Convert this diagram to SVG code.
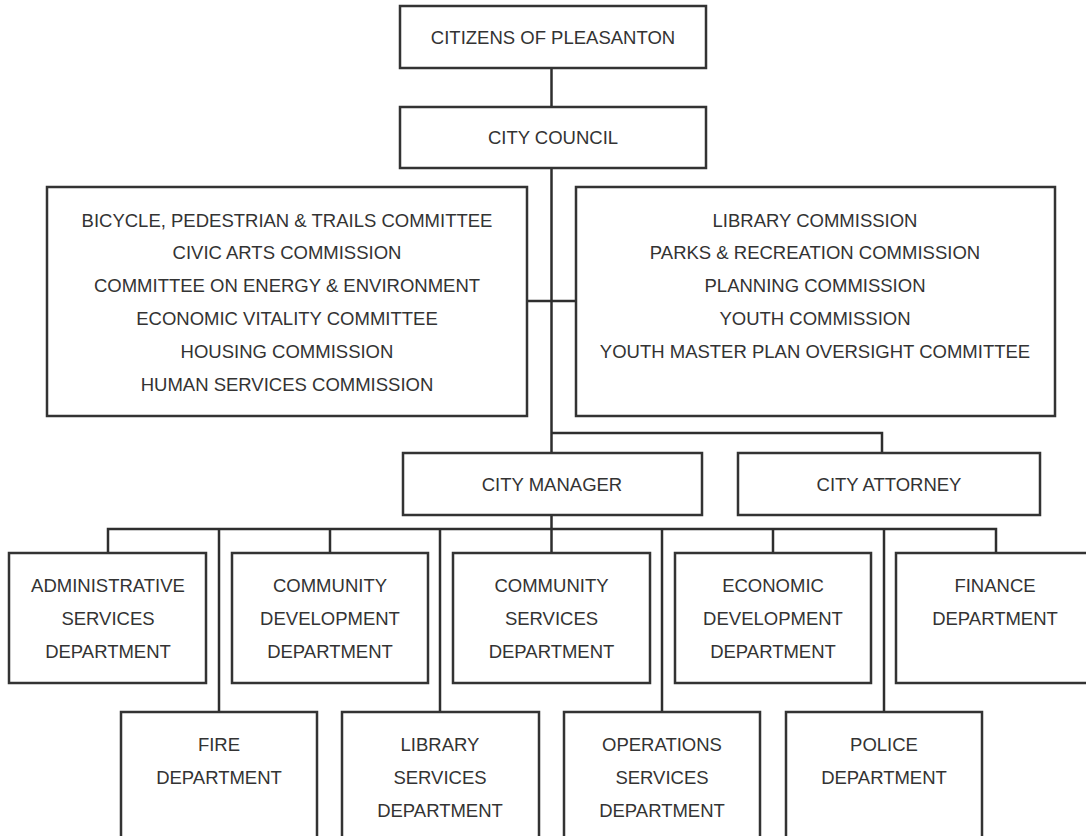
<svg xmlns="http://www.w3.org/2000/svg" width="1086" height="836" viewBox="0 0 1086 836">
<style>
.box{fill:#ffffff;stroke:#333333;stroke-width:2.5}
.ln{fill:none;stroke:#2e2e2e;stroke-width:2.5}
text{font-family:"Liberation Sans",Arial,sans-serif;font-size:18.5px;fill:#333333;text-anchor:middle}
</style>
<rect width="1086" height="836" fill="#ffffff"/>
<g id="connectors">
<path class="ln" d="M551.5,68 V108"/>
<path class="ln" d="M551.5,168 V453"/>
<path class="ln" d="M527,301 H576"/>
<path class="ln" d="M551.5,433 H882 V453"/>
<path class="ln" d="M551.5,515 V553"/>
<path class="ln" d="M108,553 V529 H996 V553"/>
<path class="ln" d="M219,529 V712"/>
<path class="ln" d="M330,529 V553"/>
<path class="ln" d="M440,529 V712"/>
<path class="ln" d="M662,529 V712"/>
<path class="ln" d="M773,529 V553"/>
<path class="ln" d="M884,529 V712"/>
</g>
<g id="citizens">
<rect class="box" x="400" y="6" width="306" height="62"/>
<text x="553" y="44">CITIZENS OF PLEASANTON</text>
</g>
<g id="council">
<rect class="box" x="400" y="107" width="306" height="61"/>
<text x="553" y="144">CITY COUNCIL</text>
</g>
<g id="commissions-left">
<rect class="box" x="47" y="187" width="480" height="229"/>
<text x="287" y="227">BICYCLE, PEDESTRIAN &amp; TRAILS COMMITTEE</text>
<text x="287" y="259">CIVIC ARTS COMMISSION</text>
<text x="287" y="292">COMMITTEE ON ENERGY &amp; ENVIRONMENT</text>
<text x="287" y="325">ECONOMIC VITALITY COMMITTEE</text>
<text x="287" y="358">HOUSING COMMISSION</text>
<text x="287" y="391">HUMAN SERVICES COMMISSION</text>
</g>
<g id="commissions-right">
<rect class="box" x="576" y="187" width="479" height="229"/>
<text x="815" y="227">LIBRARY COMMISSION</text>
<text x="815" y="259">PARKS &amp; RECREATION COMMISSION</text>
<text x="815" y="292">PLANNING COMMISSION</text>
<text x="815" y="325">YOUTH COMMISSION</text>
<text x="815" y="358">YOUTH MASTER PLAN OVERSIGHT COMMITTEE</text>
</g>
<g id="manager">
<rect class="box" x="403" y="453" width="299" height="62"/>
<text x="552" y="491">CITY MANAGER</text>
</g>
<g id="attorney">
<rect class="box" x="738" y="453" width="302" height="62"/>
<text x="889" y="491">CITY ATTORNEY</text>
</g>
<g id="admin">
<rect class="box" x="9" y="553" width="197" height="130"/>
<text x="108" y="592">ADMINISTRATIVE</text>
<text x="108" y="625">SERVICES</text>
<text x="108" y="658">DEPARTMENT</text>
</g>
<g id="commdev">
<rect class="box" x="232" y="553" width="196" height="130"/>
<text x="330" y="592">COMMUNITY</text>
<text x="330" y="625">DEVELOPMENT</text>
<text x="330" y="658">DEPARTMENT</text>
</g>
<g id="commserv">
<rect class="box" x="453" y="553" width="197" height="130"/>
<text x="551.5" y="592">COMMUNITY</text>
<text x="551.5" y="625">SERVICES</text>
<text x="551.5" y="658">DEPARTMENT</text>
</g>
<g id="econdev">
<rect class="box" x="675" y="553" width="196" height="130"/>
<text x="773" y="592">ECONOMIC</text>
<text x="773" y="625">DEVELOPMENT</text>
<text x="773" y="658">DEPARTMENT</text>
</g>
<g id="finance">
<rect class="box" x="896" y="553" width="198" height="130"/>
<text x="995" y="592">FINANCE</text>
<text x="995" y="625">DEPARTMENT</text>
</g>
<g id="fire">
<rect class="box" x="121" y="712" width="196" height="140"/>
<text x="219" y="751">FIRE</text>
<text x="219" y="784">DEPARTMENT</text>
</g>
<g id="library">
<rect class="box" x="342" y="712" width="197" height="140"/>
<text x="440" y="751">LIBRARY</text>
<text x="440" y="784">SERVICES</text>
<text x="440" y="817">DEPARTMENT</text>
</g>
<g id="operations">
<rect class="box" x="564" y="712" width="196" height="140"/>
<text x="662" y="751">OPERATIONS</text>
<text x="662" y="784">SERVICES</text>
<text x="662" y="817">DEPARTMENT</text>
</g>
<g id="police">
<rect class="box" x="786" y="712" width="196" height="140"/>
<text x="884" y="751">POLICE</text>
<text x="884" y="784">DEPARTMENT</text>
</g>
</svg>
